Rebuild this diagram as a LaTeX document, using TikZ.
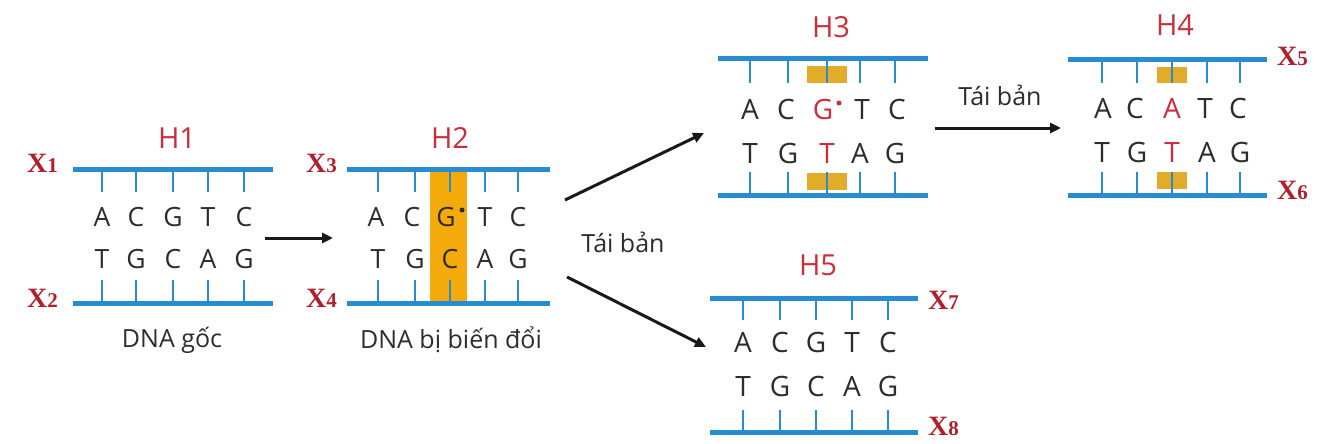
\documentclass[tikz,border=0pt]{standalone}
\usepackage{fontspec}
\setmainfont{Open Sans}
\newfontfamily\xfont{Liberation Serif}
\usetikzlibrary{arrows.meta}
\definecolor{dnablue}{RGB}{40,140,208}
\definecolor{mutorange}{RGB}{244,170,10}
\definecolor{pairorange}{RGB}{226,172,40}
\definecolor{titlered}{RGB}{205,45,58}
\definecolor{xred}{RGB}{178,30,42}
\definecolor{basegray}{RGB}{45,45,45}
\definecolor{arrowblack}{RGB}{25,25,25}
\tikzset{
  strand/.style={line width=5pt, draw=dnablue},
  rung/.style={line width=2.8pt, draw=dnablue},
  basechar/.style={inner sep=0pt, text height=19pt, text depth=0pt, font=\fontsize{26.5}{26.5}\selectfont, text=basegray},
  basecharL/.style={inner sep=0pt, text height=20pt, text depth=0pt, font=\fontsize{28}{28}\selectfont, text=basegray},
  titlelbl/.style={inner sep=0pt, text height=21pt, text depth=0pt, font=\fontsize{29}{29}\selectfont, text=titlered},
  xlbl/.style={inner sep=0pt, anchor=base west, text=xred, font=\xfont\bfseries\fontsize{28}{28}\selectfont},
  caption/.style={inner sep=0pt, text=basegray, font=\fontsize{25}{25}\selectfont},
  flow/.style={line width=3pt, draw=arrowblack, -{Triangle[length=11pt,width=10pt]}},
  mutbox/.style={fill=mutorange, draw=none},
  pairbox/.style={fill=pairorange, draw=none},
  mutdot/.style={circle, inner sep=0pt, minimum size=5pt}
}
\newcommand{\xsub}[1]{\fontsize{21}{21}\selectfont #1}
\begin{document}
\begin{tikzpicture}[x=1pt,y=-1pt]
\useasboundingbox (0,0) rectangle (1328,444);
\fill[white] (0,0) rectangle (1328,444);

% ---------------- H1 ----------------
\draw[strand] (73,169) -- (273,169);
\draw[strand] (73,303) -- (273,303);
\foreach \x in {102,136,173,208,244}{
  \draw[rung] (\x,169) -- (\x,192);
  \draw[rung] (\x,280) -- (\x,303);
}
\foreach \x/\l [count=\i] in {102/A,136/C,173/G,208/T,244/C}
  \node[basechar] (hAt\i) at (\x,217) {\l};
\foreach \x/\l [count=\i] in {102/T,136/G,173/C,208/A,244/G}
  \node[basechar] (hAb\i) at (\x,259) {\l};
\node[titlelbl] (t1) at (177,138) {H1};
\node[xlbl] (x1) at (27,172) {X\xsub{1}};
\node[xlbl] (x2) at (27,307) {X\xsub{2}};
\node[caption] (c1) at (172,340) {DNA gốc};

% ---------------- H2 ----------------
\fill[mutbox] (430,171) rectangle (467,301);
\draw[strand] (347,169) -- (550,169);
\draw[strand] (347,303) -- (550,303);
\foreach \x in {378,415,450,485,518}{
  \draw[rung] (\x,169) -- (\x,192);
  \draw[rung] (\x,280) -- (\x,303);
}
\foreach \x/\l [count=\i] in {376/A,412/C,446/G,485/T,518/C}
  \node[basechar] (hBt\i) at (\x,217) {\l};
\node[mutdot, fill=basegray] (d2) at (462,210) {};
\foreach \x/\l [count=\i] in {378/T,415/G,450/C,485/A,518/G}
  \node[basechar] (hBb\i) at (\x,259) {\l};
\node[titlelbl] (t2) at (450,138) {H2};
\node[xlbl] (x3) at (306,172) {X\xsub{3}};
\node[xlbl] (x4) at (306,307) {X\xsub{4}};
\node[caption] (c2) at (451,340) {DNA bị biến đổi};

% ---------------- H3 ----------------
\fill[pairbox] (807,66) rectangle (847,83);
\fill[pairbox] (807,173) rectangle (847,190);
\draw[strand] (718,59) -- (928,59);
\draw[strand] (718,195) -- (928,195);
\foreach \x in {750,788,827,860,895}{
  \draw[rung] (\x,59) -- (\x,83);
  \draw[rung] (\x,172) -- (\x,195);
}
\foreach \x/\l [count=\i] in {750/A,786/C,823/\textcolor{titlered}{G},862/T,897/C}
  \node[basecharL] (hCt\i) at (\x,109) {\l};
\node[mutdot, fill=titlered] (d3) at (839,103) {};
\foreach \x/\l [count=\i] in {750/T,788/G,827/\textcolor{titlered}{T},860/A,895/G}
  \node[basecharL] (hCb\i) at (\x,153) {\l};
\node[titlelbl] (t3) at (831,27) {H3};

% ---------------- H4 ----------------
\fill[pairbox] (1157,67) rectangle (1187,83);
\fill[pairbox] (1157,172) rectangle (1187,189);
\draw[strand] (1068,60) -- (1267,60);
\draw[strand] (1068,195) -- (1267,195);
\foreach \x in {1102,1137,1172,1207,1240}{
  \draw[rung] (\x,60) -- (\x,83);
  \draw[rung] (\x,172) -- (\x,195);
}
\foreach \x/\l [count=\i] in {1103/A,1135/C,1172/\textcolor{titlered}{A},1205/T,1238/C}
  \node[basecharL] (hDt\i) at (\x,108) {\l};
\foreach \x/\l [count=\i] in {1102/T,1137/G,1172/\textcolor{titlered}{T},1207/A,1240/G}
  \node[basecharL] (hDb\i) at (\x,152) {\l};
\node[titlelbl] (t4) at (1175,25) {H4};
\node[xlbl] (x5) at (1277,66) {X\xsub{5}};
\node[xlbl] (x6) at (1277,199) {X\xsub{6}};

% ---------------- H5 ----------------
\draw[strand] (710,298) -- (918,298);
\draw[strand] (710,432) -- (918,432);
\foreach \x in {743,780,816,852,888}{
  \draw[rung] (\x,298) -- (\x,320);
  \draw[rung] (\x,410) -- (\x,432);
}
\foreach \x/\l [count=\i] in {743/A,780/C,816/G,852/T,888/C}
  \node[basecharL] (hEt\i) at (\x,342) {\l};
\foreach \x/\l [count=\i] in {743/T,780/G,816/C,852/A,888/G}
  \node[basecharL] (hEb\i) at (\x,386) {\l};
\node[titlelbl] (t5) at (818,265) {H5};
\node[xlbl] (x7) at (928,309) {X\xsub{7}};
\node[xlbl] (x8) at (928,435) {X\xsub{8}};

% ---------------- arrows ----------------
\coordinate (a1s) at (265,238);
\coordinate (a1e) at (333,238);
\coordinate (a2s) at (565,200);
\coordinate (a2e) at (704,133);
\coordinate (a3s) at (567,277);
\coordinate (a3e) at (706,347);
\coordinate (a4s) at (935,128);
\coordinate (a4e) at (1061,128);
\draw[flow] (a1s) -- (a1e);
\draw[flow] (a2s) -- (a2e);
\draw[flow] (a3s) -- (a3e);
\draw[flow] (a4s) -- (a4e);
\node[caption] (r1) at (623,242) {Tái bản};
\node[caption] (r2) at (1000,95) {Tái bản};
\end{tikzpicture}
\end{document}
